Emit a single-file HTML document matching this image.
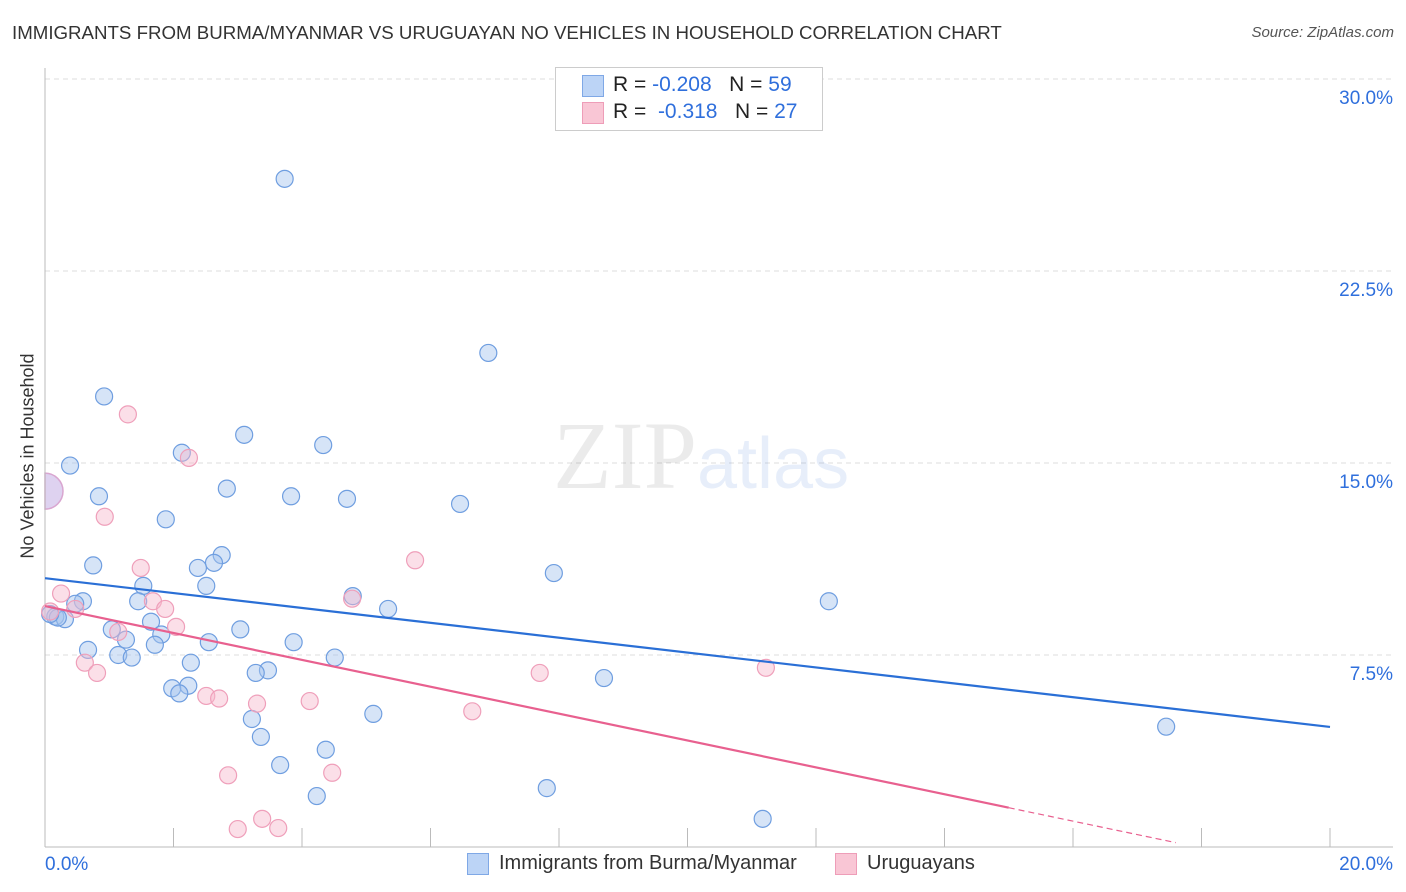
<!DOCTYPE html>
<html><head><meta charset="utf-8">
<style>
body{margin:0;background:#fff;font-family:"Liberation Sans",sans-serif;}
#wrap{position:relative;width:1406px;height:892px;overflow:hidden;}
.t{position:absolute;white-space:nowrap;}
</style></head><body>
<div id="wrap">
<div class="t" style="left:12px;top:22px;font-size:18.7px;color:#333;">IMMIGRANTS FROM BURMA/MYANMAR VS URUGUAYAN NO VEHICLES IN HOUSEHOLD CORRELATION CHART</div>
<div class="t" style="right:12px;top:24px;font-size:15px;color:#555;font-style:italic;">Source: ZipAtlas.com</div>
<svg id="svg" width="1406" height="892" style="position:absolute;left:0;top:0"></svg>
<div class="t" style="left:555px;top:67px;width:266px;height:62px;border:1px solid #ccc;background:#fff;"></div>
<div class="t" style="left:582px;top:75px;width:20px;height:20px;background:#bcd4f6;border:1px solid #7fa8e6;"></div>
<div class="t" style="left:582px;top:102px;width:20px;height:20px;background:#f9c6d5;border:1px solid #ee9db8;"></div>
<div class="t" style="left:613px;top:73px;font-size:21px;color:#222;">R = <span style="color:#2f6fdc">-0.208</span>&nbsp;&nbsp;&nbsp;N = <span style="color:#2f6fdc">59</span></div>
<div class="t" style="left:613px;top:100px;font-size:21px;color:#222;">R = &nbsp;<span style="color:#2f6fdc">-0.318</span>&nbsp;&nbsp;&nbsp;N = <span style="color:#2f6fdc">27</span></div>
<div class="t" style="left:28px;top:456px;font-size:18px;color:#333;transform:translate(-50%,-50%) rotate(-90deg);">No Vehicles in Household</div>
<div class="t" style="left:553px;top:400px;font-size:96px;font-family:'Liberation Serif',serif;color:rgba(0,0,0,0.08);">ZIP<span style="font-family:'Liberation Sans',sans-serif;color:rgba(70,120,220,0.13);font-size:72px;">atlas</span></div>
<div class="t" style="left:467px;top:853px;width:20px;height:20px;background:#bcd4f6;border:1px solid #7fa8e6;"></div>
<div class="t" style="left:499px;top:852px;font-size:20px;color:#333;">Immigrants from Burma/Myanmar</div>
<div class="t" style="left:835px;top:853px;width:20px;height:20px;background:#f9c6d5;border:1px solid #ee9db8;"></div>
<div class="t" style="left:867px;top:852px;font-size:20px;color:#333;">Uruguayans</div>
</div>
<script>
const yTicks=[7.5,15,22.5,30];
const yTickLabels=["7.5%","15.0%","22.5%","30.0%"];
const xTickLabels=["0.0%","20.0%"];
const blueX=[3.73,6.90,0.92,0.39,2.13,3.10,4.33,2.83,0.84,3.83,4.70,6.46,1.88,2.75,2.63,0.75,2.38,7.92,1.53,2.51,4.79,0.59,1.45,12.20,0.47,5.34,0.16,0.31,1.65,1.04,3.04,1.81,1.26,2.55,3.87,1.71,0.67,1.14,1.35,4.51,2.27,3.47,3.28,8.70,2.23,1.98,2.09,5.11,3.22,17.45,3.36,4.37,3.66,7.81,4.23,11.17,0.20,0.08];
const blueY=[26.1,19.3,17.6,14.9,15.4,16.1,15.7,14.0,13.7,13.7,13.6,13.4,12.8,11.4,11.1,11.0,10.9,10.7,10.2,10.2,9.8,9.6,9.6,9.6,9.5,9.3,9.0,8.9,8.8,8.5,8.5,8.3,8.1,8.0,8.0,7.9,7.7,7.5,7.4,7.4,7.2,6.9,6.8,6.6,6.3,6.2,6.0,5.2,5.0,4.7,4.3,3.8,3.2,2.3,1.99,1.1,8.96,9.1];
const pinkX=[1.29,2.24,0.93,0.25,1.49,5.76,1.68,1.87,0.47,4.78,2.04,1.14,0.62,0.81,7.70,11.22,2.51,2.71,3.30,4.12,6.65,2.85,4.47,3.38,3.00,3.63,0.08];
const pinkY=[16.9,15.2,12.9,9.9,10.9,11.2,9.6,9.3,9.3,9.7,8.6,8.4,7.2,6.8,6.8,7.0,5.9,5.8,5.6,5.7,5.3,2.8,2.9,1.1,0.7,0.74,9.2];
const bigPoint=[0,13.9];
const blueLine=[10.5,4.69];
const pinkLine=[9.41,-0.525];
const NS='http://www.w3.org/2000/svg';
const svg=document.getElementById('svg');
const X=v=>45+v*64.25, Y=v=>847-v*25.6;
function mk(tag,attrs){const e=document.createElementNS(NS,tag);for(const k in attrs)e.setAttribute(k,attrs[k]);svg.appendChild(e);return e;}
yTicks.forEach((t,i)=>{
 const g=mk('line',{x1:45,x2:1393,y1:Y(t),y2:Y(t),stroke:'#ddd','stroke-dasharray':'5,4'});
 
 
 const tx=mk('text',{x:1393,y:Y(t)+25,'text-anchor':'end','font-size':19,fill:'#2f6fdc','font-family':'Liberation Sans, sans-serif'});
 tx.textContent=yTickLabels[i];
 
 
});
const bx=X(bigPoint[0]), by=Y(bigPoint[1]), br=18;
const big=mk('path',{d:`M${bx},${by-br} A${br},${br} 0 0 1 ${bx},${by+br} Z`,fill:'rgba(200,180,230,0.6)',stroke:'#d9a6d0','stroke-width':1.5});


let ax=mk('line',{x1:45,x2:45,y1:68,y2:847,stroke:'#bbb'});


ax=mk('line',{x1:45,x2:1393,y1:847,y2:847,stroke:'#bbb'});


for(let i=0;i<=10;i++){
 const tk=mk('line',{x1:X(i*2),x2:X(i*2),y1:828,y2:847,stroke:'#bbb'});
 
 
}
xTickLabels.forEach((l,i)=>{
 const tx=mk('text',{x:i?1393:45,y:870,'text-anchor':i?'end':'start','font-size':19,fill:'#2f6fdc','font-family':'Liberation Sans, sans-serif'});
 tx.textContent=l;
 
 
});
blueX.forEach((x,i)=>{
 const c=mk('circle',{cx:X(x),cy:Y(blueY[i]),r:8.5,fill:'rgba(164,196,238,0.45)',stroke:'#6f9ee0','stroke-width':1.2});
 
 
});
pinkX.forEach((x,i)=>{
 const c=mk('circle',{cx:X(x),cy:Y(pinkY[i]),r:8.5,fill:'rgba(246,184,204,0.45)',stroke:'#ef9fba','stroke-width':1.2});
 
 
});
let l=mk('line',{x1:X(0),y1:Y(blueLine[0]),x2:X(20),y2:Y(blueLine[1]),stroke:'#2a6fd6','stroke-width':2.2});


const py=x=>pinkLine[0]+pinkLine[1]*x;
l=mk('line',{x1:X(0),y1:Y(py(0)),x2:X(15),y2:Y(py(15)),stroke:'#e8608f','stroke-width':2.2});


l=mk('line',{x1:X(15),y1:Y(py(15)),x2:X(17.6),y2:Y(py(17.6)),stroke:'#e8608f','stroke-width':1.2,'stroke-dasharray':'6,4'});


</script>
</body></html>
